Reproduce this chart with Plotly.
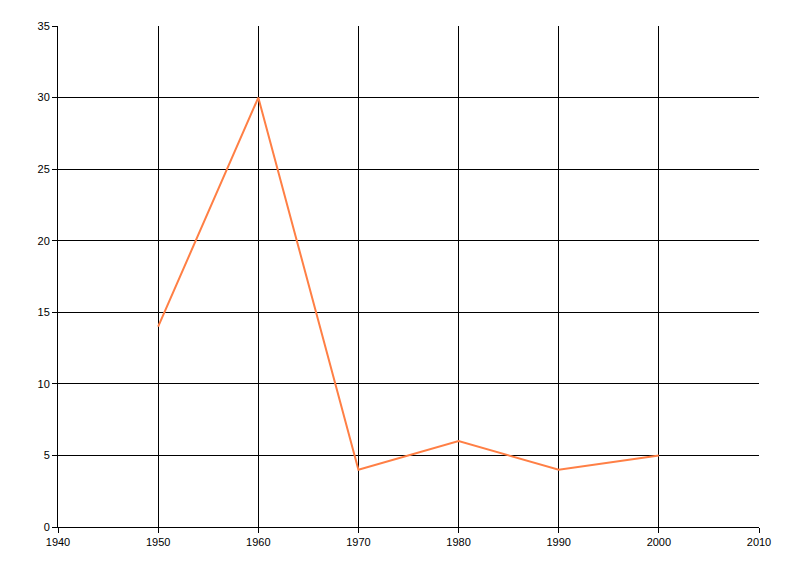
import plotly.graph_objects as go

years = [1950, 1960, 1970, 1980, 1990, 2000]
values = [14, 30, 4, 6, 4, 5]

fig = go.Figure()
fig.add_trace(
    go.Scatter(
        x=years,
        y=values,
        mode="lines",
        line=dict(color="#FF7F45", width=2),
        showlegend=False,
    )
)

axis_common = dict(
    showgrid=True,
    gridcolor="black",
    gridwidth=1,
    showline=True,
    linecolor="black",
    linewidth=1,
    ticks="outside",
    ticklen=5,
    tickcolor="black",
    zeroline=False,
    tickfont=dict(family="Liberation Sans, Arial, sans-serif", size=11, color="black"),
)

fig.update_xaxes(range=[1940, 2010], dtick=10, tick0=1940, **axis_common)
fig.update_yaxes(range=[0, 35], dtick=5, tick0=0, **axis_common)

# page body adds an 8px offset, so margins are shifted to compensate
fig.update_layout(
    width=800,
    height=576,
    margin=dict(l=50, r=49, t=18, b=57),
    plot_bgcolor="white",
    paper_bgcolor="white",
)

fig.write_html("out.html")
